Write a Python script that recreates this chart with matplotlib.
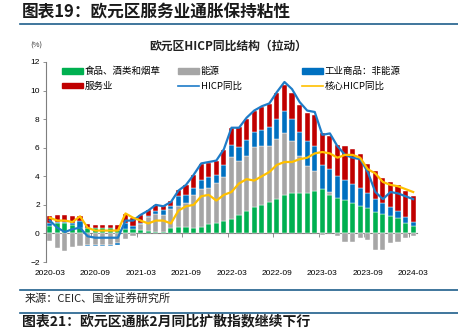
import numpy as np
import matplotlib
matplotlib.use('Agg')
import matplotlib.pyplot as plt
from matplotlib.lines import Line2D
from matplotlib.patches import Patch

plt.rcParams['font.family'] = ['Noto Sans CJK SC', 'DejaVu Sans']

# monthly contributions (pp), 2020-03 .. 2024-03
food = [0.55, 0.72, 0.72, 0.6, 0.38, 0.35, 0.35, 0.37, 0.36, 0.26,
        0.3, 0.28, 0.24, 0.15, 0.13, 0.11, 0.35, 0.43, 0.43, 0.41, 0.48, 0.69,
        0.72, 0.87, 1.03, 1.3, 1.55, 1.83, 2.02, 2.18, 2.43, 2.7, 2.8, 2.84,
        2.81, 2.99, 3.08, 2.69, 2.49, 2.31, 2.15, 1.93, 1.75, 1.47, 1.37, 1.21,
        1.08, 0.75, 0.5]
energy = [-0.5, -1.0, -1.2, -0.95, -0.85, -0.82, -0.82, -0.82, -0.82, -0.68,
          -0.42, -0.17, 0.41, 0.99, 1.24, 1.2, 1.36, 1.46, 1.67, 2.25, 2.61, 2.47,
          2.8, 3.1, 4.3, 3.75, 3.9, 4.2, 4.1, 3.95, 4.15, 4.3, 3.65, 2.6,
          1.93, 1.4, -0.09, 0.24, -0.18, -0.57, -0.62, -0.34, -0.47, -1.14, -1.17, -0.68,
          -0.57, -0.35, -0.17]
neig = [0.15, 0.05, 0.05, 0.1, 0.5, -0.03, -0.05, -0.04, -0.08, -0.15,
        0.4, 0.27, 0.08, 0.11, 0.19, 0.32, 0.19, 0.7, 0.56, 0.54, 0.65, 0.78,
        0.59, 0.8, 0.87, 0.97, 1.08, 1.1, 1.15, 1.31, 1.41, 1.56, 1.56, 1.64,
        1.74, 1.76, 1.71, 1.6, 1.5, 1.42, 1.3, 1.22, 1.06, 0.91, 0.75, 0.65,
        0.51, 0.41, 0.28]
services = [0.5, 0.5, 0.5, 0.5, 0.35, 0.28, 0.21, 0.19, 0.25, 0.3,
            0.65, 0.52, 0.54, 0.38, 0.46, 0.29, 0.38, 0.46, 0.71, 0.88, 1.13, 1.0,
            0.99, 1.05, 1.16, 1.42, 1.5, 1.46, 1.59, 1.63, 1.85, 1.85, 1.8, 1.89,
            1.94, 2.11, 2.24, 2.29, 2.2, 2.38, 2.46, 2.42, 2.07, 2.02, 1.76, 1.76,
            1.82, 1.78, 1.82]
hicp = [0.9, 0.4, 0.1, 0.3, 0.4, -0.2, -0.3, -0.3, -0.3, -0.3,
        0.9, 0.9, 1.3, 1.6, 2.0, 1.9, 2.2, 3.0, 3.4, 4.1, 4.9, 5.0,
        5.1, 5.9, 7.4, 7.4, 8.1, 8.6, 8.9, 9.1, 9.9, 10.6, 10.1, 9.2,
        8.6, 8.5, 6.9, 7.0, 6.1, 5.5, 5.3, 5.2, 4.3, 2.9, 2.4, 2.9,
        2.8, 2.6, 2.4]
core = [1.1, 0.9, 0.9, 0.8, 1.2, 0.4, 0.2, 0.2, 0.2, 0.2,
        1.4, 1.1, 0.9, 0.7, 0.9, 0.9, 0.7, 1.6, 1.9, 2.0, 2.6, 2.7,
        2.3, 2.7, 2.9, 3.5, 3.8, 3.7, 4.0, 4.3, 4.8, 5.0, 5.0, 5.2,
        5.3, 5.6, 5.7, 5.6, 5.3, 5.5, 5.5, 5.3, 4.5, 4.2, 3.6, 3.4,
        3.3, 3.1, 2.9]
tick_labels = ['2020-03', '2020-09', '2021-03', '2021-09', '2022-03',
               '2022-09', '2023-03', '2023-09', '2024-03']

names = ['食品、酒类和烟草', '能源', '工业商品：非能源', '服务业']
colors = ['#00b050', '#a6a6a6', '#0070c0', '#c00000']
series = [food, energy, neig, services]
hicp_color = '#1e7cc8'
core_color = '#ffc000'

fig = plt.figure(figsize=(4.58, 3.28), dpi=100)
ax = fig.add_axes([0.1004, 0.2012, 0.81, 0.6098])

x = np.arange(len(food))
pos = np.zeros(len(x))
neg = np.zeros(len(x))
for vals, c in zip(series, colors):
    v = np.array(vals)
    bottom = np.where(v >= 0, pos, neg)
    ax.bar(x, v, 0.68, bottom=bottom, color=c, edgecolor='white', linewidth=0.3, zorder=2)
    pos = pos + np.clip(v, 0, None)
    neg = neg + np.clip(v, None, 0)

ax.plot(x, hicp, color=hicp_color, lw=1.6, zorder=3)
ax.plot(x, core, color=core_color, lw=1.6, zorder=3)

ax.set_xlim(-0.5, len(x) - 0.5)
ax.set_ylim(-2, 12)
ax.set_yticks(range(-2, 13, 2))
ax.set_xticks(np.arange(0, len(x), 6))
ax.set_xticklabels(tick_labels)
ax.set_xticks(np.arange(0, len(x), 6) - 0.5, minor=True)

for s in ['top', 'right']:
    ax.spines[s].set_visible(False)
ax.spines['left'].set_color('#7f7f7f')
ax.spines['left'].set_linewidth(0.8)
ax.spines['bottom'].set_position(('data', 0))
ax.spines['bottom'].set_color('#7f7f7f')
ax.spines['bottom'].set_linewidth(0.8)
ax.spines['bottom'].set_zorder(1)

ax.tick_params(axis='y', labelsize=6, length=2.5, width=0.6, color='#7f7f7f', pad=2)
ax.tick_params(axis='x', which='major', labelsize=6, length=0, pad=26)
ax.tick_params(axis='x', which='minor', length=3, width=0.6, color='#7f7f7f')
for lab in ax.get_xticklabels() + ax.get_yticklabels():
    lab.set_fontfamily(['Liberation Sans', 'DejaVu Sans'])

# legend: three equal-width columns like the original
legend_cols = [
    ([Patch(color=colors[0]), Patch(color=colors[3])], [names[0], names[3]], 0.043),
    ([Patch(color=colors[1]), Line2D([], [], color=hicp_color, lw=1.2)], [names[1], 'HICP同比'], 0.356),
    ([Patch(color=colors[2]), Line2D([], [], color=core_color, lw=1.2)], [names[2], '核心HICP同比'], 0.69),
]
legends = []
for h, l, xpos in legend_cols:
    leg = ax.legend(h, l, frameon=False, fontsize=6.8, loc='upper left',
                    bbox_to_anchor=(xpos, 0.975), borderpad=0, borderaxespad=0,
                    handlelength=2.2, handleheight=0.5, handletextpad=0.2,
                    labelspacing=0.55)
    legends.append(leg)
for leg in legends[:-1]:
    ax.add_artist(leg)

# titles and decorations
fig.text(22 / 458, 1 - 12 / 328, '图表19：欧元区服务业通胀保持粘性', fontsize=12,
         fontweight='bold', va='center', ha='left', color='#1a1a1a')
fig.add_artist(Line2D([20 / 458, 1], [1 - 24 / 328] * 2, color='#1f5f8b', lw=1.2))
fig.text(228 / 458, 1 - 46 / 328, '欧元区HICP同比结构（拉动）', fontsize=8.5,
         fontweight='bold', ha='center', va='center', color='#222222')
fig.text(30 / 458, 1 - 46 / 328, '(%)', fontsize=5.5, ha='left', va='center', color='#333333')

fig.add_artist(Line2D([20 / 458, 1], [1 - 290 / 328] * 2, color='#1f5f8b', lw=1.2))
fig.text(25 / 458, 1 - 298 / 328, '来源：CEIC、国金证券研究所', fontsize=8,
         ha='left', va='center', color='#222222')
fig.add_artist(Line2D([20 / 458, 1], [1 - 313 / 328] * 2, color='#1f5f8b', lw=1.2))
fig.text(22 / 458, 1 - 321 / 328, '图表21：欧元区通胀2月同比扩散指数继续下行', fontsize=10,
         fontweight='bold', va='center', ha='left', color='#1a1a1a')

fig.savefig('out.png', dpi=100)
